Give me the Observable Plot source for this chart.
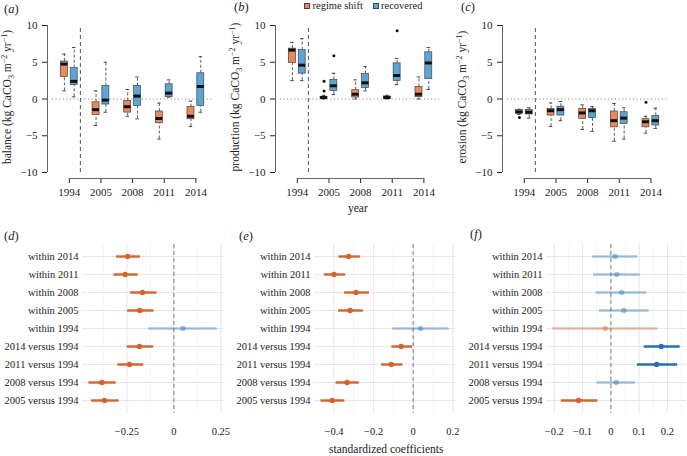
<!DOCTYPE html>
<html><head><meta charset="utf-8">
<script src="https://cdn.jsdelivr.net/npm/d3@7"></script>
<script src="https://cdn.jsdelivr.net/npm/@observablehq/plot@0.6"></script>
<style>
body{margin:0;background:#fff;}
#wrap{position:relative;width:687px;height:456px;overflow:hidden;font-family:"Liberation Serif",serif;color:#222;}
.pl{position:absolute;top:0;}
.lab{position:absolute;font-size:12.5px;line-height:13px;white-space:nowrap;}
.leg{position:absolute;font-size:10.5px;line-height:11px;white-space:nowrap;}
.sw{position:absolute;width:4px;height:4px;border:0.8px solid #444;}
</style></head><body><div id="wrap"></div>
<script>
// ---------- data: top panels ----------
const years = ["1994", "2005", "2008", "2011", "2014"];
const groups = ["regime shift", "recovered"];
// each entry: [lower whisker, Q1, median, Q3, upper whisker]
const balanceShift = [[1.1, 3.0, 4.75, 5.1, 6.1], [-3.6, -2.2, -1.45, -0.45, 1.1], [-2.35, -1.85, -1.05, -0.25, 1.3], [-5.45, -3.3, -2.65, -1.7, -0.55], [-3.75, -2.75, -2.35, -1.1, -0.3]];
const balanceRecovered = [[0.3, 1.9, 2.4, 4.2, 7.0], [-1.8, -0.75, -0.15, 1.75, 5.0], [-2.7, -0.95, 0.4, 1.75, 3.0], [0.25, 0.25, 0.8, 2.0, 2.6], [-1.8, -0.95, 1.7, 3.5, 5.75]];
const productionShift = [[2.5, 4.9, 6.65, 6.85, 7.7], [0, 0.05, 0.2, 0.3, 0.5], [0, 0.2, 0.65, 1.2, 2.6], [0, 0.05, 0.2, 0.35, 0.5], [0, 0.25, 0.65, 1.65, 3.0]];
const productionRecovered = [[2.5, 3.45, 4.6, 6.65, 8.2], [0.6, 1.1, 1.8, 2.6, 3.5], [1.1, 1.5, 2.2, 3.4, 4.4], [1.95, 2.45, 3.2, 4.85, 5.5], [1.3, 2.7, 4.9, 6.35, 7.0]];
const erosionShift = [[-2.1, -2.0, -1.75, -1.5, -1.4], [-3.75, -2.25, -1.6, -1.35, -0.55], [-4.15, -2.7, -1.9, -1.35, -0.8], [-5.75, -3.85, -2.95, -1.7, -0.6], [-4.65, -3.85, -3.1, -2.75, -2.35]];
const erosionRecovered = [[-2.6, -2.1, -1.8, -1.5, -1.2], [-2.95, -2.25, -1.45, -1.05, -0.35], [-4.4, -2.6, -1.6, -1.35, -1.05], [-5.45, -3.4, -2.6, -1.8, -1.2], [-4.0, -3.6, -2.95, -2.3, -1.25]];
// outliers: [year, value]
const balanceShiftOut = [];
const balanceRecoveredOut = [];
const productionShiftOut = [["2005", 1.1], ["2005", 2.4]];
const productionRecoveredOut = [["2005", 5.9], ["2011", 9.3]];
const erosionShiftOut = [["1994", -2.5], ["2014", -0.45]];
const erosionRecoveredOut = [];
const yTicks = [-10, -5, 0, 5, 10];

// ---------- data: coefficient panels ----------
const rowLabels = ["within 2014", "within 2011", "within 2008", "within 2005", "within 1994",
  "2014 versus 1994", "2011 versus 1994", "2008 versus 1994", "2005 versus 1994"];
const dEst = [-0.246, -0.259, -0.167, -0.181, 0.048, -0.183, -0.236, -0.383, -0.369];
const dLo  = [-0.305, -0.319, -0.230, -0.246, -0.133, -0.248, -0.298, -0.452, -0.438];
const dHi  = [-0.177, -0.190, -0.090, -0.105, 0.230, -0.108, -0.160, -0.307, -0.291];
const eEst = [-0.326, -0.400, -0.289, -0.319, 0.037, -0.061, -0.111, -0.334, -0.409];
const eLo  = [-0.375, -0.449, -0.346, -0.377, -0.103, -0.108, -0.160, -0.389, -0.466];
const eHi  = [-0.267, -0.341, -0.221, -0.252, 0.181, -0.003, -0.052, -0.272, -0.345];
const fEst = [0.015, 0.021, 0.038, 0.046, -0.020, 0.178, 0.162, 0.019, -0.114];
const fLo  = [-0.064, -0.061, -0.052, -0.041, -0.205, 0.118, 0.094, -0.049, -0.175];
const fHi  = [0.095, 0.104, 0.127, 0.135, 0.167, 0.245, 0.236, 0.087, -0.046];
const dTicks = [-0.25, 0, 0.25], dMinor = [-0.375, -0.125, 0.125];
const eTicks = [-0.4, -0.2, 0, 0.2], eMinor = [-0.3, -0.1, 0.1];
const fTicks = [-0.2, -0.1, 0, 0.1, 0.2], fMinor = [-0.15, -0.05, 0.05, 0.15, 0.25];

// ---------- styling / layout constants ----------
const FONT = "Liberation Serif";
const BOX_COLORS = ["#EC885C", "#5CA5D5"];
const NEG = "#D5622B", POS = "#2270B3";
const OFFSET = [-0.155, 0.155], BW = 0.22, CAP = 0.11;
const XDOM = [-0.5, 4.5], YDOM = [-10, 10];
const SPLIT = [0.35];
const INSET = 6;
const fmt = d => d === 0 ? "0" : (d < 0 ? "\u2212" : "") + Math.abs(d);

const wrap = document.getElementById("wrap");

function boxTable(shift, rec) {
  const out = [];
  [shift, rec].forEach((arr, g) => arr.forEach((v, i) =>
    out.push({g, x: i + OFFSET[g], lo: v[0], q1: v[1], med: v[2], q3: v[3], hi: v[4]})));
  return out;
}
function outTable(shiftOut, recOut) {
  const out = [];
  [shiftOut, recOut].forEach((arr, g) => arr.forEach(([yr, v]) =>
    out.push({x: years.indexOf(yr) + OFFSET[g], v})));
  return out;
}

function topPanel(left, rows, outs, name) {
  const svg = Plot.plot({
    width: 225, height: 230,
    marginLeft: 47, marginRight: 13.8, marginTop: 25, marginBottom: 52,
    insetLeft: INSET, insetBottom: 6,
    style: {fontFamily: FONT, fontSize: "11px", color: "#222", background: "transparent", overflow: "visible"},
    x: {domain: XDOM, ticks: years.map((_, i) => i), tickFormat: i => years[i], tickSize: 5, tickPadding: 4.5, label: null},
    y: {domain: YDOM, ticks: yTicks, tickFormat: fmt, tickSize: 5, tickPadding: 5, label: null},
    marks: [
      Plot.ruleY([0], {stroke: "#777", strokeDasharray: "1,2.6", insetLeft: 5}),
      Plot.ruleX(SPLIT, {y1: YDOM[0], y2: YDOM[1], stroke: "#444", strokeDasharray: "4,3", strokeWidth: 0.9}),
      Plot.ruleX(XDOM.slice(0, 1), {y1: YDOM[0], y2: YDOM[1], dx: -INSET, stroke: "#666"}),
      Plot.ruleY(YDOM.slice(0, 1), {x1: 0, x2: years.length - 1, dy: 6, stroke: "#666"}),
      Plot.ruleX(rows, {x: "x", y1: "q3", y2: "hi", stroke: "#333", strokeWidth: 0.8, strokeDasharray: "3,2"}),
      Plot.ruleX(rows, {x: "x", y1: "lo", y2: "q1", stroke: "#333", strokeWidth: 0.8, strokeDasharray: "3,2"}),
      Plot.ruleY(rows, {y: "hi", x1: d => d.x - CAP / 2, x2: d => d.x + CAP / 2, stroke: "#333", strokeWidth: 0.9}),
      Plot.ruleY(rows, {y: "lo", x1: d => d.x - CAP / 2, x2: d => d.x + CAP / 2, stroke: "#333", strokeWidth: 0.9}),
      Plot.rect(rows, {x1: d => d.x - BW / 2, x2: d => d.x + BW / 2, y1: "q1", y2: "q3",
        fill: d => BOX_COLORS[d.g], stroke: "#444", strokeWidth: 0.7}),
      Plot.ruleY(rows, {y: "med", x1: d => d.x - BW / 2, x2: d => d.x + BW / 2, stroke: "#111", strokeWidth: 3}),
      Plot.dot(outs, {x: "x", y: "v", r: 1.5, fill: "#111", stroke: null})
    ]
  });
  svg.classList.add("pl");
  svg.style.left = left + "px";
  const t = d3.select(svg).append("text")
    .attr("transform", "translate(11,97) rotate(-90)")
    .attr("text-anchor", "middle")
    .attr("font-family", FONT).attr("font-size", "11.5px").attr("fill", "#222");
  t.append("tspan").text(name + " (kg CaCO");
  t.append("tspan").attr("dy", 3).attr("font-size", "8px").text("3");
  t.append("tspan").attr("dy", -3).text(" m");
  t.append("tspan").attr("dy", -4).attr("font-size", "8px").text("\u22122");
  t.append("tspan").attr("dy", 4).text(" yr");
  t.append("tspan").attr("dy", -4).attr("font-size", "8px").text("\u22121");
  t.append("tspan").attr("dy", 4).text(")");
  wrap.appendChild(svg);
}

function coefPanel(left, width, mr, est, lo, hi, ticks, minor) {
  const data = rowLabels.map((r, i) => ({row: r, est: est[i], lo: lo[i], hi: hi[i]}));
  const mn = d3.min(lo), mx = d3.max(hi), pad = (mx - mn) * 0.05;
  const col = d => d.est < 0 ? NEG : POS;
  const op = d => (d.lo > 0 || d.hi < 0) ? 1 : 0.4;
  const svg = Plot.plot({
    width, height: 226,
    marginLeft: 82, marginRight: mr, marginTop: 13.9, marginBottom: 42.9,
    style: {fontFamily: FONT, fontSize: "10.5px", color: "#222", background: "transparent", overflow: "visible"},
    x: {domain: [mn - pad, mx + pad], ticks, tickFormat: fmt, tickSize: 0, tickPadding: 14, label: null},
    y: {type: "point", domain: rowLabels, padding: 0.5, tickSize: 0, tickPadding: 4, label: null},
    color: {type: "identity"},
    marks: [
      Plot.ruleX(minor.filter(v => v > mn - pad && v < mx + pad), {stroke: "#efefef", strokeWidth: 0.6}),
      Plot.ruleX(ticks, {stroke: "#e4e4e4", strokeWidth: 0.9}),
      Plot.ruleY(rowLabels, {stroke: "#e4e4e4", strokeWidth: 0.9}),
      Plot.ruleX([0], {stroke: "#9a9a9a", strokeWidth: 1.3, strokeDasharray: "4,3"}),
      Plot.ruleY(data, {y: "row", x1: "lo", x2: "hi", stroke: col, strokeOpacity: op, strokeWidth: 2.4}),
      Plot.dot(data, {x: "est", y: "row", r: 2.7, fill: col, fillOpacity: op, stroke: null})
    ]
  });
  svg.classList.add("pl");
  svg.style.left = left + "px";
  svg.style.top = "230px";
  wrap.appendChild(svg);
}

topPanel(0, boxTable(balanceShift, balanceRecovered), outTable(balanceShiftOut, balanceRecoveredOut), "balance");
topPanel(228, boxTable(productionShift, productionRecovered), outTable(productionShiftOut, productionRecoveredOut), "production");
topPanel(455, boxTable(erosionShift, erosionRecovered), outTable(erosionShiftOut, erosionRecoveredOut), "erosion");

coefPanel(0, 229, 6, dEst, dLo, dHi, dTicks, dMinor);
coefPanel(232, 229, 6, eEst, eLo, eHi, eTicks, eMinor);
coefPanel(464, 223, 1, fEst, fLo, fHi, fTicks, fMinor);

// panel letters, legend, axis titles
function lab(text, x, y, cls, extra) {
  const d = document.createElement("div");
  d.className = cls; d.style.left = x + "px"; d.style.top = y + "px";
  d.innerHTML = text;
  if (extra) Object.assign(d.style, extra);
  wrap.appendChild(d);
  return d;
}
const letters = [["a", 4, 3], ["b", 234, 1], ["c", 461, 1], ["d", 4, 230], ["e", 239, 230], ["f", 470, 228]];
letters.forEach(([l, x, y]) => lab("(<i>" + l + "</i>)", x, y, "lab"));
lab("", 304, 3, "sw", {background: BOX_COLORS[0]});
lab(groups[0], 312.5, 0, "leg");
lab("", 372.5, 3, "sw", {background: BOX_COLORS[1]});
lab(groups[1], 381, 0, "leg");
lab("year", 348, 202, "lab", {fontSize: "11.5px"});
lab("standardized coefficients", 329, 443, "lab", {fontSize: "11.5px"});
</script></body></html>
